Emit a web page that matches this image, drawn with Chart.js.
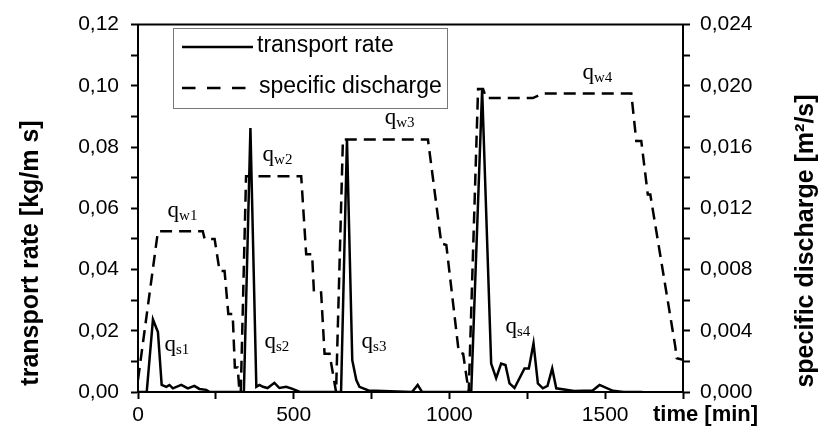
<!DOCTYPE html>
<html>
<head>
<meta charset="utf-8">
<script src="https://cdn.jsdelivr.net/npm/chart.js@4/dist/chart.umd.min.js"></script>
<style>
  body { margin: 0; background: #fff; }
  #wrap { width: 825px; height: 428px; }
</style>
</head>
<body>
<div id="wrap"><canvas id="flumeChart" width="825" height="428"></canvas></div>
<script>
// transport rate q_s [kg/m s], left axis
const rateTime = [0, 28, 48, 64, 76, 91, 101, 112, 139, 160, 181, 197, 219, 230,
  340, 361, 380, 390, 401, 416, 438, 454, 476, 496, 520,
  652, 671, 688, 701, 711, 740, 880, 898, 912,
  1070, 1105, 1134, 1150, 1166, 1180, 1193, 1209, 1241, 1255, 1270, 1284, 1300,
  1315, 1330, 1343, 1400, 1460, 1482, 1525, 1560, 1620];
const rateValue = [0, 0, 0.0237, 0.0196, 0.0023, 0.0017, 0.0023, 0.0012, 0.0023, 0.0012, 0.0020, 0.0010, 0.0007, 0,
  0, 0.0862, 0.0017, 0.0023, 0.0017, 0.0013, 0.0030, 0.0013, 0.0017, 0.0010, 0,
  0, 0.0826, 0.0104, 0.0039, 0.0017, 0.0005, 0, 0.0023, 0,
  0, 0.0989, 0.0093, 0.0045, 0.0093, 0.0088, 0.0028, 0.0013, 0.0077, 0.0077, 0.0159, 0.0028, 0.0012,
  0.0020, 0.0077, 0.0012, 0.0003, 0.0005, 0.0023, 0.0004, 0, 0];

// specific discharge q_w [m2/s], right axis
const dischargeTime = [0, 64, 208, 214, 246, 262, 278, 290, 304, 311, 320, 326,
  330, 347, 524, 540, 559, 565, 588, 599, 615, 636,
  658, 931, 974, 990, 1030, 1044, 1062,
  1092, 1108, 1118, 1268, 1300, 1584, 1600, 1616, 1637, 1645, 1725, 1730, 1750];
const dischargeValue = [0.0008, 0.0105, 0.0105, 0.0100, 0.0100, 0.0079, 0.0079, 0.0051, 0.0051, 0.0016, 0.0016, 0,
  0, 0.0141, 0.0141, 0.0090, 0.0090, 0.0065, 0.0065, 0.0025, 0.0025, 0,
  0.0165, 0.0165, 0.0097, 0.0096, 0.0026, 0.0025, 0,
  0.0198, 0.0198, 0.0192, 0.0192, 0.0195, 0.0195, 0.0164, 0.0164, 0.0129, 0.0129, 0.0030, 0.0022, 0.0021];

const leftTickLabels = ["0,00", "0,02", "0,04", "0,06", "0,08", "0,10", "0,12"];
const rightTickLabels = ["0,000", "0,004", "0,008", "0,012", "0,016", "0,020", "0,024"];

// q labels, anchored in data units (time, left axis value)
const tagSub = ["w1", "w2", "w3", "w4", "s1", "s2", "s3", "s4"];
const tagTime = [95, 400, 792, 1427, 85, 406, 718, 1180];
const tagLevel = [0.057, 0.0755, 0.0876, 0.1022, 0.0134, 0.0143, 0.0143, 0.0192];

const sans = "'Liberation Sans', Arial, sans-serif";
const serif = "'Liberation Serif', 'Times New Roman', serif";

const extras = {
  id: "extras",
  afterDraw(chart) {
    const { ctx, chartArea: a, scales } = chart;
    ctx.save();

    // top frame line
    ctx.strokeStyle = "#000";
    ctx.lineWidth = 2;
    ctx.beginPath();
    ctx.moveTo(a.left - 1, a.top);
    ctx.lineTo(a.right + 1, a.top);
    ctx.stroke();

    // axis titles
    ctx.fillStyle = "#000";
    ctx.font = "bold 25px " + sans;
    ctx.textAlign = "center";
    ctx.textBaseline = "middle";
    ctx.save();
    ctx.translate(31, 253);
    ctx.rotate(-Math.PI / 2);
    ctx.fillText("transport rate [kg/m s]", 0, 0);
    ctx.restore();
    ctx.save();
    ctx.translate(806, 241);
    ctx.rotate(-Math.PI / 2);
    ctx.fillText("specific discharge [m\u00B2/s]", 0, 0);
    ctx.restore();

    ctx.font = "bold 22px " + sans;
    ctx.textAlign = "left";
    ctx.textBaseline = "alphabetic";
    ctx.fillText("time [min]", 653, 421);

    // q labels
    tagSub.forEach((sub, i) => {
      const px = scales.x.getPixelForValue(tagTime[i]);
      const py = scales.y.getPixelForValue(tagLevel[i]);
      ctx.font = "23px " + serif;
      ctx.fillText("q", px, py);
      const w = ctx.measureText("q").width;
      ctx.font = "15px " + serif;
      ctx.fillText(sub, px + w, py + 3);
    });

    // legend
    const ds = chart.data.datasets;
    ctx.strokeStyle = "#777";
    ctx.lineWidth = 1;
    ctx.strokeRect(173.5, 28.5, 274, 80);
    ctx.strokeStyle = "#000";
    ctx.lineWidth = 2.5;
    ctx.beginPath();
    ctx.moveTo(182, 47);
    ctx.lineTo(253, 47);
    ctx.stroke();
    ctx.setLineDash([13.5, 11.5]);
    ctx.beginPath();
    ctx.moveTo(182, 88);
    ctx.lineTo(250, 88);
    ctx.stroke();
    ctx.setLineDash([]);
    ctx.font = "23px " + sans;
    ctx.textBaseline = "middle";
    ctx.fillText(ds[0].label, 257, 46);
    ctx.fillText(ds[1].label, 259, 87);

    ctx.restore();
  }
};

const tickFont = { family: sans, size: 21 };

new Chart(document.getElementById("flumeChart"), {
  type: "line",
  data: {
    datasets: [
      {
        label: "transport rate",
        data: rateTime.map((t, i) => ({ x: t, y: rateValue[i] })),
        yAxisID: "y",
        borderColor: "#000",
        borderWidth: 2.5,
        pointRadius: 0,
        tension: 0,
        fill: false
      },
      {
        label: "specific discharge",
        data: dischargeTime.map((t, i) => ({ x: t, y: dischargeValue[i] })),
        yAxisID: "y2",
        borderColor: "#000",
        borderWidth: 2.5,
        borderDash: [12, 7],
        pointRadius: 0,
        tension: 0,
        fill: false
      }
    ]
  },
  options: {
    responsive: false,
    animation: false,
    devicePixelRatio: 1,
    layout: { padding: { top: 24, left: 0, right: 0, bottom: 0 } },
    plugins: { legend: { display: false }, tooltip: { enabled: false } },
    scales: {
      x: {
        type: "linear",
        min: 0,
        max: 1750,
        ticks: {
          stepSize: 250,
          autoSkip: false,
          maxRotation: 0,
          padding: 4,
          color: "#000",
          font: tickFont,
          callback: v => (v % 500 === 0 ? String(v) : "")
        },
        grid: { drawOnChartArea: false, tickLength: 7, tickWidth: 2, tickColor: "#000" },
        border: { color: "#000", width: 2 },
        afterFit: s => { s.height = 36; }
      },
      y: {
        position: "left",
        min: 0,
        max: 0.12,
        ticks: {
          stepSize: 0.01,
          autoSkip: false,
          padding: 12,
          color: "#000",
          font: tickFont,
          callback: (v, i) => (i % 2 === 0 ? leftTickLabels[i / 2] : "")
        },
        grid: { drawOnChartArea: false, tickLength: 7, tickWidth: 2, tickColor: "#000" },
        border: { color: "#000", width: 2 },
        afterFit: s => { s.width = 138; }
      },
      y2: {
        position: "right",
        min: 0,
        max: 0.024,
        ticks: {
          stepSize: 0.002,
          autoSkip: false,
          padding: 10,
          color: "#000",
          font: tickFont,
          callback: (v, i) => (i % 2 === 0 ? rightTickLabels[i / 2] : "")
        },
        grid: { drawOnChartArea: false, tickLength: 7, tickWidth: 2, tickColor: "#000" },
        border: { color: "#000", width: 2 },
        afterFit: s => { s.width = 142; }
      }
    }
  },
  plugins: [extras]
});
</script>
</body>
</html>
